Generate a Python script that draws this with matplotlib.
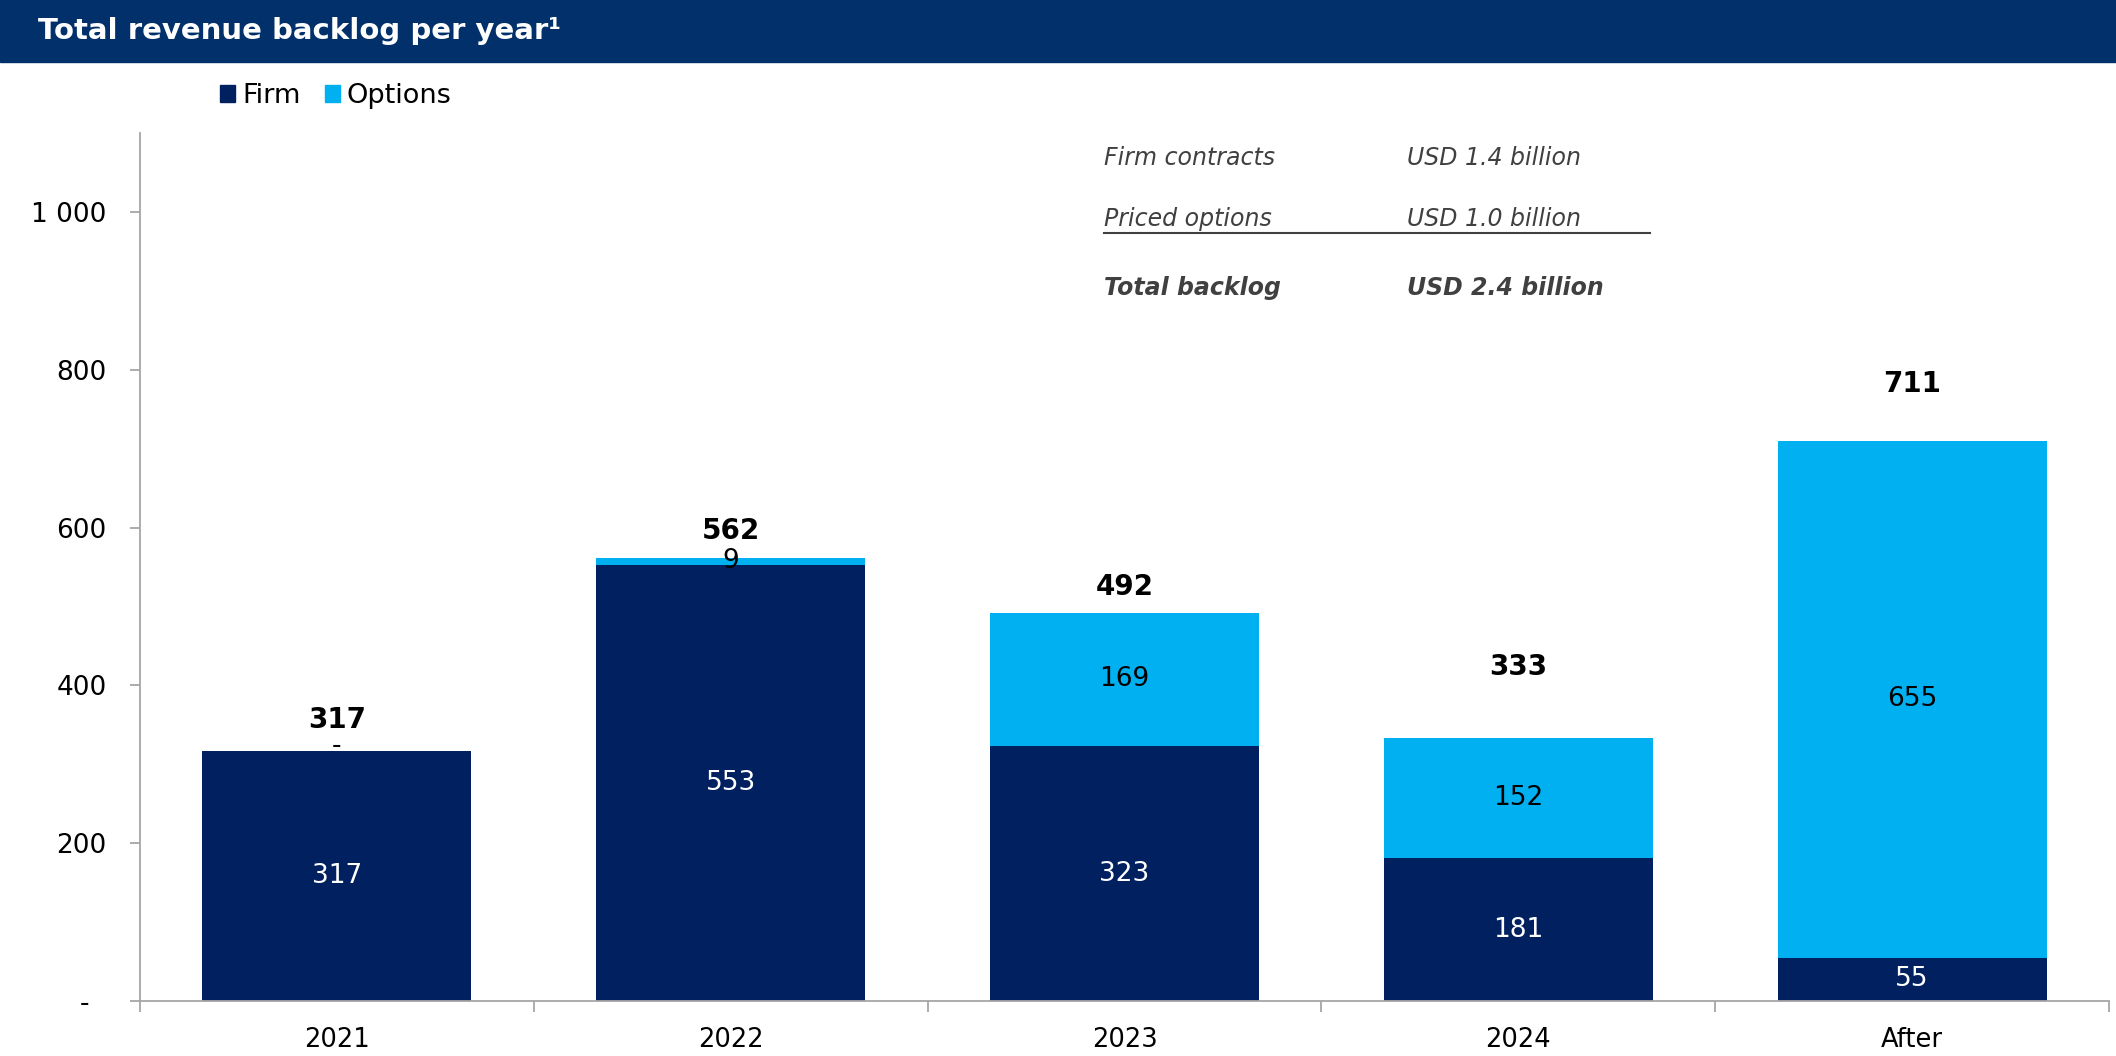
import numpy as np
import matplotlib.pyplot as plt
from matplotlib.patches import Patch, Rectangle
from matplotlib.lines import Line2D

plt.rcParams['font.family'] = ['DejaVu Sans']

# data
years = ['2021', '2022', '2023', '2024', 'After']
firm = [317, 553, 323, 181, 55]
options = [0, 9, 169, 152, 655]
totals = [317, 562, 492, 333, 711]
option_labels = ['-', '9', '169', '152', '655']

yticks = [0, 200, 400, 600, 800, 1000]
ytick_labels = ['-  ', '200', '400', '600', '800', '1 000']

# where the bold total sits above each bar (value units)
total_offsets = [39, 34, 33, 90, 71]

navy = '#002060'
sky = '#00B0F0'
grey = '#A6A6A6'

fig = plt.figure(figsize=(21.16, 10.56), dpi=100)
ax = fig.add_axes([140 / 2116, 55 / 1056, (2109 - 140) / 2116, (1001 - 133) / 1056])

x = np.arange(len(years))
w = 0.683
ax.bar(x, firm, width=w, color=navy)
ax.bar(x, options, width=w, bottom=firm, color=sky)

for i in range(len(years)):
    ax.text(x[i], firm[i] / 2, str(firm[i]), ha='center', va='center',
            color='white', fontsize=19)
    ax.text(x[i], firm[i] + options[i] / 2 + (6 if options[i] == 0 else 0),
            option_labels[i], ha='center', va='center', color='black', fontsize=19)
    ax.text(x[i], totals[i] + total_offsets[i], str(totals[i]), ha='center',
            va='center', color='black', fontsize=20, fontweight='bold')

ax.set_xlim(-0.5, len(years) - 0.5)
ax.set_ylim(0, 1100)
ax.set_yticks(yticks)
ax.set_yticklabels(ytick_labels)
ax.set_xticks(x)
ax.set_xticklabels(years)
ax.set_xticks(np.arange(-0.5, len(years), 1), minor=True)
ax.tick_params(axis='x', which='major', length=0, pad=19, labelsize=18.5)
ax.tick_params(axis='x', which='minor', length=8, width=1.3, color=grey)
ax.tick_params(axis='y', length=7, width=1.3, color=grey, pad=17, labelsize=19)

for s in ['top', 'right']:
    ax.spines[s].set_visible(False)
for s in ['left', 'bottom']:
    ax.spines[s].set_color(grey)
    ax.spines[s].set_linewidth(1.3)

# title band
fig.patches.append(Rectangle((0, 1 - 62 / 1056), 1, 62 / 1056, transform=fig.transFigure,
                             color='#02306A', zorder=0))
fig.text(38 / 2116, 1 - 31 / 1056, 'Total revenue backlog per year¹', color='white',
         fontsize=21, fontweight='bold', va='center', ha='left')

# legend
handles = [Patch(color=navy), Patch(color=sky)]
fig.legend(handles, ['Firm', 'Options'], loc='center left',
           bbox_to_anchor=(196 / 2116, 1 - 96 / 1056), ncol=2, frameon=False,
           fontsize=19.5, handlelength=0.55, handleheight=0.55, handletextpad=0.25,
           columnspacing=0.9)

# summary box
txt = dict(fontsize=17, style='italic', color='#404040', va='center', ha='left')
fig.text(1104 / 2116, 1 - 158 / 1056, 'Firm contracts', **txt)
fig.text(1407 / 2116, 1 - 158 / 1056, 'USD 1.4 billion', **txt)
fig.text(1104 / 2116, 1 - 219 / 1056, 'Priced options', **txt)
fig.text(1407 / 2116, 1 - 219 / 1056, 'USD 1.0 billion', **txt)
fig.text(1104 / 2116, 1 - 288 / 1056, 'Total backlog', fontweight='bold', **txt)
fig.text(1407 / 2116, 1 - 288 / 1056, 'USD 2.4 billion', fontweight='bold', **txt)
fig.lines.append(Line2D([1104 / 2116, 1650 / 2116], [1 - 233 / 1056, 1 - 233 / 1056],
                        transform=fig.transFigure, color='#404040', lw=1.5))

fig.savefig('out.png', dpi=100)
